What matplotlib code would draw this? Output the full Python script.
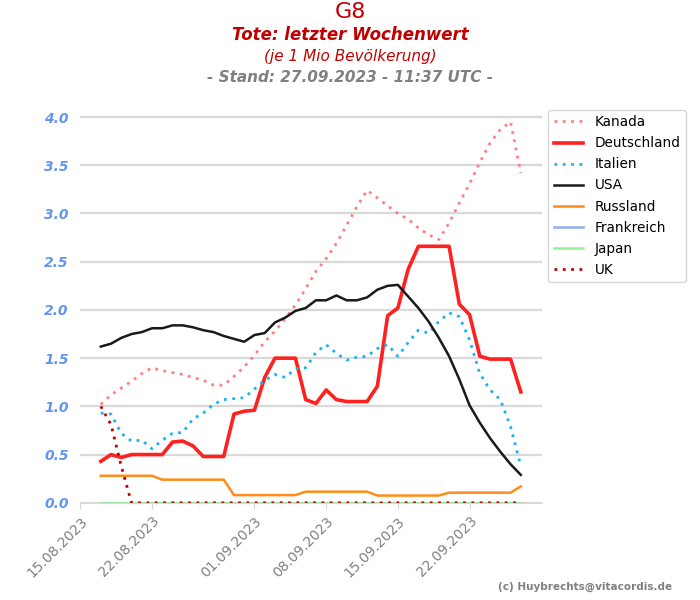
#!/usr/bin/env python3
# G8 - Tote: letzter Wochenwert je 1 Mio Bevoelkerung
import pandas as pd
import matplotlib
matplotlib.use('Agg')
import matplotlib.pyplot as plt
import matplotlib.dates as mdates

dates = pd.date_range('2023-08-17', '2023-09-27', freq='D')

kanada = [1.02, 1.12, 1.19, 1.26, 1.34, 1.40, 1.37, 1.35, 1.33, 1.30, 1.27, 1.22, 1.22, 1.31,
          1.41, 1.53, 1.67, 1.78, 1.91, 2.05, 2.22, 2.40, 2.53, 2.69, 2.88, 3.07, 3.24, 3.16,
          3.08, 3.00, 2.94, 2.85, 2.78, 2.73, 2.90, 3.11, 3.31, 3.53, 3.73, 3.87, 3.95, 3.42]
deutschland = [0.43, 0.50, 0.47, 0.50, 0.50, 0.50, 0.50, 0.63, 0.64, 0.59, 0.48, 0.48, 0.48, 0.92,
               0.95, 0.96, 1.30, 1.50, 1.50, 1.50, 1.07, 1.03, 1.17, 1.07, 1.05, 1.05, 1.05, 1.21,
               1.94, 2.02, 2.42, 2.66, 2.66, 2.66, 2.66, 2.06, 1.95, 1.52, 1.49, 1.49, 1.49, 1.15]
italien = [0.93, 0.92, 0.72, 0.64, 0.65, 0.56, 0.65, 0.72, 0.73, 0.87, 0.93, 1.02, 1.07, 1.08,
           1.09, 1.18, 1.27, 1.33, 1.30, 1.39, 1.40, 1.56, 1.64, 1.55, 1.48, 1.51, 1.52, 1.60,
           1.64, 1.52, 1.66, 1.79, 1.76, 1.88, 1.97, 1.93, 1.69, 1.34, 1.17, 1.07, 0.79, 0.38]
usa = [1.62, 1.65, 1.71, 1.75, 1.77, 1.81, 1.81, 1.84, 1.84, 1.82, 1.79, 1.77, 1.73, 1.70,
       1.67, 1.74, 1.76, 1.87, 1.92, 1.99, 2.02, 2.10, 2.10, 2.15, 2.10, 2.10, 2.13, 2.21,
       2.25, 2.26, 2.14, 2.02, 1.88, 1.71, 1.52, 1.28, 1.01, 0.83, 0.67, 0.53, 0.40, 0.29]
russland = [0.28] * 6 + [0.24] * 7 + [0.08] * 7 + [0.115] * 7 + [0.075] * 7 + [0.105] * 7 + [0.17]
frankreich = [0.0] * 42
japan = [0.0] * 42
uk = [1.0, 0.81, 0.38] + [0.0] * 39

tick_dates = ['2023-08-15', '2023-08-22', '2023-09-01', '2023-09-08', '2023-09-15', '2023-09-22']

rot = '#c00000'

fig = plt.figure(figsize=(7, 6), dpi=100)
ax = fig.add_axes([0.114, 0.162, 0.66, 0.667])

ax.plot(dates, kanada, color='#ff8080', lw=2, ls=(0, (1, 2)), label='Kanada')
ax.plot(dates, deutschland, color='#ff2020', lw=2.6, label='Deutschland')
ax.plot(dates, italien, color='#1ab2f0', lw=2, ls=(0, (1, 2)), label='Italien')
ax.plot(dates, usa, color='#1a1a1a', lw=1.8, label='USA')
ax.plot(dates, russland, color='#ff8c1a', lw=1.8, label='Russland')
ax.plot(dates, frankreich, color='#8fb0e8', lw=1.8, label='Frankreich')
ax.plot(dates, japan, color='#98f098', lw=1.8, label='Japan')
ax.plot(dates, uk, color='#c00000', lw=2, ls=(0, (1, 2)), label='UK')

ax.set_ylim(0, 4.15)
ax.set_yticks([0, 0.5, 1.0, 1.5, 2.0, 2.5, 3.0, 3.5, 4.0])
ax.set_yticklabels(['0.0', '0.5', '1.0', '1.5', '2.0', '2.5', '3.0', '3.5', '4.0'])
ax.grid(axis='y', color='#d9d9d9', lw=1.6)
ax.set_axisbelow(True)

ax.set_xticks(pd.to_datetime(tick_dates))
ax.xaxis.set_major_formatter(mdates.DateFormatter('%d.%m.%Y'))
plt.setp(ax.get_xticklabels(), rotation=45, ha='right', rotation_mode='anchor',
         color='#808080', fontsize=10)
for lab in ax.get_yticklabels():
    lab.set_color('#6495ed')
    lab.set_fontweight('bold')
    lab.set_fontstyle('italic')
    lab.set_fontsize(10)
ax.tick_params(axis='y', length=0, pad=8)
ax.tick_params(axis='x', length=4, color='#d9d9d9', pad=4)

for s in ['top', 'right', 'left']:
    ax.spines[s].set_visible(False)
ax.spines['bottom'].set_color('#d9d9d9')

fig.text(0.5, 0.98, 'G8', ha='center', va='center', fontsize=16, color=rot)
fig.text(0.5, 0.942, 'Tote: letzter Wochenwert', ha='center', va='center', fontsize=12,
         color=rot, fontweight='bold', fontstyle='italic')
fig.text(0.5, 0.906, '(je 1 Mio Bevölkerung)', ha='center', va='center', fontsize=11,
         color=rot, fontstyle='italic')
fig.text(0.5, 0.871, '- Stand: 27.09.2023 - 11:37 UTC -', ha='center', va='center',
         fontsize=11, color='#808080', fontweight='bold', fontstyle='italic')
fig.text(0.96, 0.022, '(c) Huybrechts@vitacordis.de', ha='right', va='center', fontsize=7.5,
         color='#808080', fontweight='bold')

fig.legend(loc='upper left', bbox_to_anchor=(0.783, 0.817), borderaxespad=0, fontsize=9.8,
           frameon=True, edgecolor='#cccccc', handlelength=2.2, labelspacing=0.52)

plt.savefig('out.png', dpi=100)
